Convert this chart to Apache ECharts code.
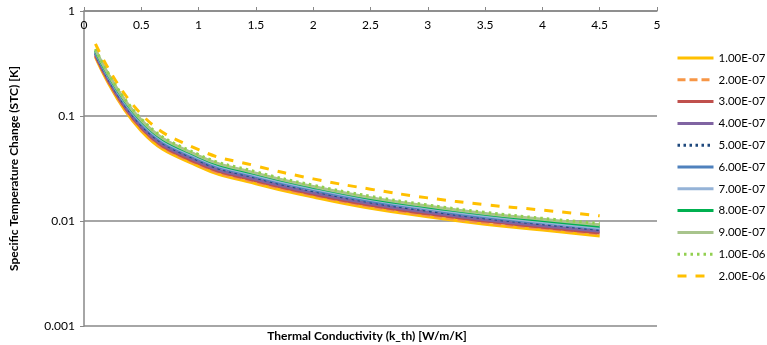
<!DOCTYPE html>
<html>
<head>
<meta charset="utf-8">
<script src="https://cdn.jsdelivr.net/npm/echarts@6/dist/echarts.min.js"></script>
<style>html,body{margin:0;padding:0;background:#fff}#c{width:767px;height:345px}</style>
</head>
<body>
<div id="c"></div>
<script>
var xValues = [0.1, 0.5, 1.0, 1.5, 2.0, 2.5, 3.0, 3.5, 4.0, 4.5];
var seriesNames = ['1.00E-07','2.00E-07','3.00E-07','4.00E-07','5.00E-07','6.00E-07','7.00E-07','8.00E-07','9.00E-07','1.00E-06','2.00E-06'];
var s1  = [0.365, 0.0722, 0.0331, 0.0226, 0.0169, 0.0132, 0.0110, 0.0093, 0.0082, 0.0072];
var s2  = [0.372, 0.0747, 0.0342, 0.0234, 0.0175, 0.0137, 0.0113, 0.0096, 0.0085, 0.0075];
var s3  = [0.380, 0.0772, 0.0353, 0.0242, 0.0180, 0.0141, 0.0117, 0.0100, 0.0087, 0.0077];
var s4  = [0.390, 0.0797, 0.0365, 0.0250, 0.0186, 0.0146, 0.0121, 0.0103, 0.0090, 0.0080];
var s5  = [0.400, 0.0830, 0.0380, 0.0260, 0.0194, 0.0152, 0.0126, 0.0107, 0.0094, 0.0083];
var s6  = [0.405, 0.0847, 0.0388, 0.0265, 0.0198, 0.0155, 0.0129, 0.0109, 0.0096, 0.0085];
var s7  = [0.412, 0.0872, 0.0399, 0.0273, 0.0204, 0.0160, 0.0132, 0.0112, 0.0098, 0.0086];
var s8  = [0.420, 0.0896, 0.0410, 0.0281, 0.0210, 0.0164, 0.0136, 0.0116, 0.0101, 0.0089];
var s9  = [0.428, 0.0913, 0.0418, 0.0286, 0.0213, 0.0167, 0.0139, 0.0118, 0.0104, 0.0092];
var s10 = [0.435, 0.0938, 0.0429, 0.0294, 0.0219, 0.0172, 0.0142, 0.0121, 0.0106, 0.0095];
var s11 = [0.485, 0.1040, 0.0478, 0.0335, 0.0252, 0.0201, 0.0166, 0.0143, 0.0127, 0.0112];
var allValues = [s1, s2, s3, s4, s5, s6, s7, s8, s9, s10, s11];
var xTicks = [0, 0.5, 1, 1.5, 2, 2.5, 3, 3.5, 4, 4.5, 5];
var yTicks = [0.001, 0.01, 0.1, 1];

var styles = [
  {color:'#FFC000', type:'solid'},
  {color:'#F79646', type:[8,4]},
  {color:'#C0504D', type:'solid'},
  {color:'#8064A2', type:'solid'},
  {color:'#1F497D', type:[2.5,3.5]},
  {color:'#4F81BD', type:'solid'},
  {color:'#95B3D7', type:'solid'},
  {color:'#00B050', type:'solid'},
  {color:'#A8C48C', type:'solid'},
  {color:'#92D050', type:[2.5,4]},
  {color:'#FFC000', type:[9,9]}
];

var font = 'Lato, "Liberation Sans", sans-serif';
var series = seriesNames.map(function(n, i){
  return {
    name: n, type: 'line', smooth: 0.45, symbol: 'none', showSymbol: false,
    data: xValues.map(function(x, j){ return [x, allValues[i][j]]; }),
    lineStyle: {color: styles[i].color, width: 3, type: styles[i].type, cap: 'butt'},
    itemStyle: {color: styles[i].color},
    z: 2 + i
  };
});

var chart = echarts.init(document.getElementById('c'), null, {renderer:'canvas'});
chart.setOption({
  animation: false,
  backgroundColor: '#fff',
  textStyle: {fontFamily: font},
  grid: {left: 73, right: 110, top: 11, bottom: 19},
  xAxis: {
    type: 'value', position: 'top', min: 0, max: 5, interval: 0.5,
    axisLine: {show: true, lineStyle: {color: '#888', width: 1.5}},
    axisTick: {show: true, inside: false, length: 4, lineStyle: {color: '#888'}},
    axisLabel: {inside: true, margin: 8, color: '#000', fontSize: 12, fontFamily: font,
      formatter: function(v){ return xTicks.indexOf(v) >= 0 ? String(v) : ''; }},
    splitLine: {show: false}
  },
  yAxis: {
    type: 'log', logBase: 10, min: 0.001, max: 1,
    name: 'Specific Temperature Change (STC) [K]', nameLocation: 'middle', nameGap: 64, nameRotate: 90,
    nameTextStyle: {fontWeight: 'bold', fontSize: 12, color: '#000', fontFamily: font},
    axisLine: {show: true, lineStyle: {color: '#888', width: 1.5}},
    axisTick: {show: true, length: 4, lineStyle: {color: '#888'}},
    axisLabel: {color: '#000', fontSize: 12, margin: 9, fontFamily: font,
      formatter: function(v){ for (var k=0;k<yTicks.length;k++){ if (Math.abs(v-yTicks[k])/yTicks[k] < 1e-6) return String(yTicks[k]); } return ''; }},
    splitLine: {show: true, lineStyle: {color: '#888', width: 1.5}}
  },
  legend: {
    orient: 'vertical', left: 676, top: 52, itemWidth: 36, itemHeight: 14, itemGap: 9.8,
    padding: 0,
    itemStyle: {opacity: 0},
    lineStyle: {width: 3},
    textStyle: {fontSize: 11.5, color: '#000', fontFamily: font},
    data: seriesNames
  },
  graphic: [{
    type: 'text', x: 367, y: 336,
    style: {text: 'Thermal Conductivity (k_th) [W/m/K]', font: 'bold 12px ' + font, fill: '#000',
      textAlign: 'center', textVerticalAlign: 'middle'}
  }],
  series: series
});
</script>
</body>
</html>
